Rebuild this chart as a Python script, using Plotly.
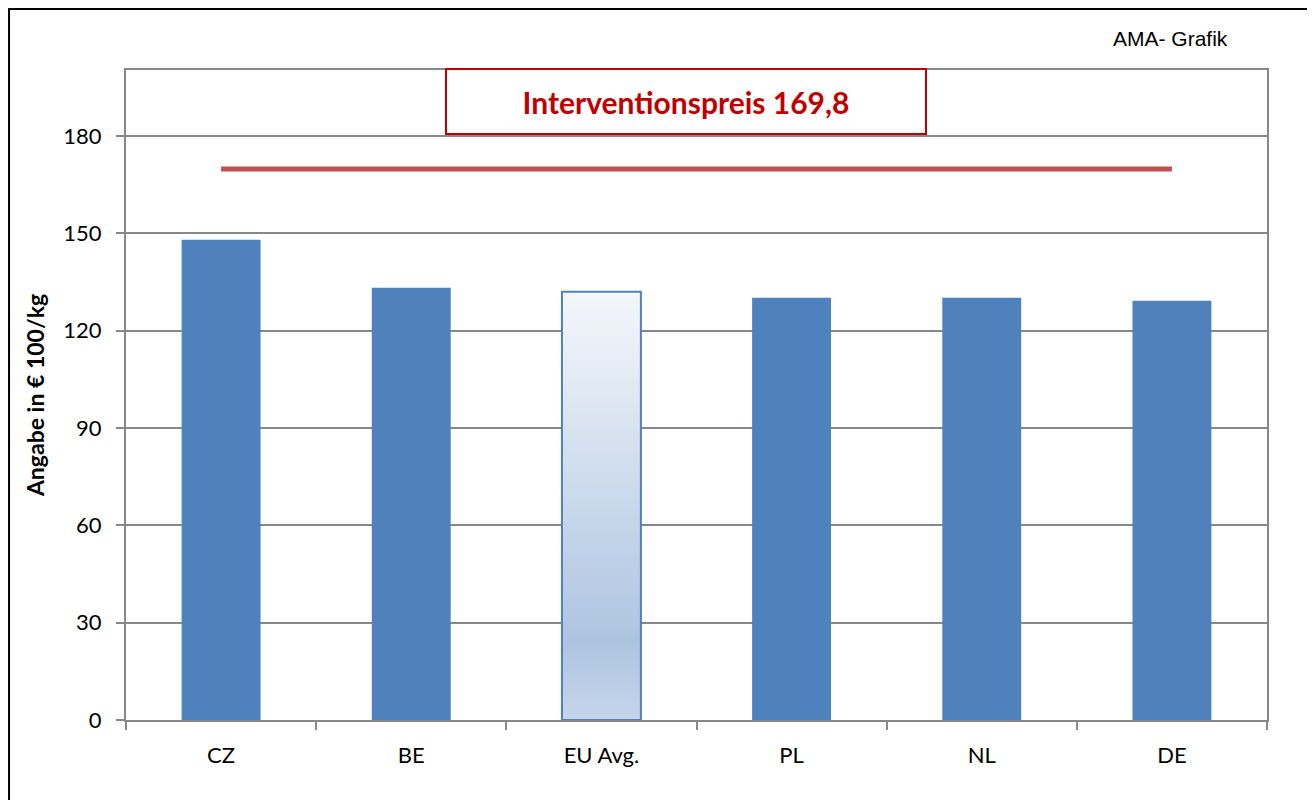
import plotly.graph_objects as go

# data
countries = ["CZ", "BE", "EU Avg.", "PL", "NL", "DE"]
prices = [148.0, 133.2, 132.0, 130.1, 130.1, 129.2]
avg_label = "EU Avg."
intervention_price = 169.8
y_ticks = [0, 30, 60, 90, 120, 150, 180]

BLUE = "#4f81bd"
RED_LINE = "#c0504d"
RED_TEXT = "#c00000"
GRID = "#878787"
FONT = "Lato"
BAR_W = 0.415

idx = list(range(len(countries)))
plain_x = [i for i, c in zip(idx, countries) if c != avg_label]
plain_y = [p for p, c in zip(prices, countries) if c != avg_label]
avg_i = countries.index(avg_label)
avg_v = prices[avg_i]

fig = go.Figure()

# solid country bars
fig.add_trace(go.Bar(x=plain_x, y=plain_y, width=BAR_W,
                     marker=dict(color=BLUE, line=dict(width=0)),
                     showlegend=False, hoverinfo="x+y"))

# EU average bar with vertical gradient fill
fig.add_trace(go.Scatter(
    x=[avg_i - BAR_W / 2, avg_i + BAR_W / 2, avg_i + BAR_W / 2, avg_i - BAR_W / 2, avg_i - BAR_W / 2],
    y=[0, 0, avg_v, avg_v, 0],
    mode="lines", fill="toself",
    fillgradient=dict(type="vertical",
                      colorscale=[[0, "#c6d6eb"], [0.18, "#adc4e1"], [1, "#f4f7fb"]]),
    line=dict(color=BLUE, width=2),
    showlegend=False, hoverinfo="skip"))

# intervention price line
fig.add_trace(go.Scatter(x=[idx[0], idx[-1]], y=[intervention_price] * 2,
                         mode="lines", line=dict(color=RED_LINE, width=5),
                         showlegend=False, hoverinfo="skip"))

# invisible trace to carry the category labels on xaxis2
fig.add_trace(go.Scatter(x=idx, y=prices, xaxis="x2", mode="markers",
                         marker=dict(opacity=0), showlegend=False, hoverinfo="skip"))

fig.update_layout(
    width=1315, height=800,
    margin=dict(l=118, r=56, t=62, b=88),
    paper_bgcolor="white", plot_bgcolor="white",
    font=dict(family=FONT, size=22, color="black"),
    xaxis=dict(range=[-0.5, 5.5], tickvals=[i - 0.5 for i in idx] + [5.5],
               ticktext=[""] * (len(idx) + 1),
               ticks="outside", ticklen=8, tickwidth=2, tickcolor=GRID,
               showgrid=False, showline=True, linecolor=GRID, linewidth=2,
               mirror=True, zeroline=False),
    xaxis2=dict(range=[-0.5, 5.5], overlaying="x", side="bottom",
                tickvals=idx, ticktext=countries, ticks="", showgrid=False,
                showline=False, zeroline=False, ticklabelstandoff=20,
                tickfont=dict(family=FONT, size=22)),
    yaxis=dict(range=[0, 200.3], tickvals=y_ticks,
               ticks="outside", ticklen=8, tickwidth=2, tickcolor=GRID,
               showgrid=True, gridcolor=GRID, gridwidth=2,
               showline=True, linecolor=GRID, linewidth=2, mirror=True,
               zeroline=False, ticklabelstandoff=10,
               tickfont=dict(family=FONT, size=22),
               title=dict(text="<b>Angabe in € 100/kg</b>", standoff=12,
                          font=dict(family=FONT, size=23))),
    bargap=0.5,
    shapes=[dict(type="rect", xref="paper", yref="paper",
                 x0=-0.1025, x1=1.0368, y0=-0.125, y1=1.0938,
                 line=dict(color="black", width=2), layer="below")],
    annotations=[
        dict(text="<b>Interventionspreis 169,8</b>", xref="paper", yref="paper",
             x=0.491, y=0.9515, showarrow=False,
             font=dict(family=FONT, size=30, color=RED_TEXT),
             width=476, height=61, bordercolor=RED_TEXT, borderwidth=2,
             bgcolor="white", xanchor="center", yanchor="middle"),
        dict(text="AMA- Grafik", xref="paper", yref="paper",
             x=0.9674, y=1.0492, showarrow=False, xanchor="right", yanchor="middle",
             font=dict(family="Liberation Sans", size=21, color="black")),
    ],
)

fig.write_html("out.html")
